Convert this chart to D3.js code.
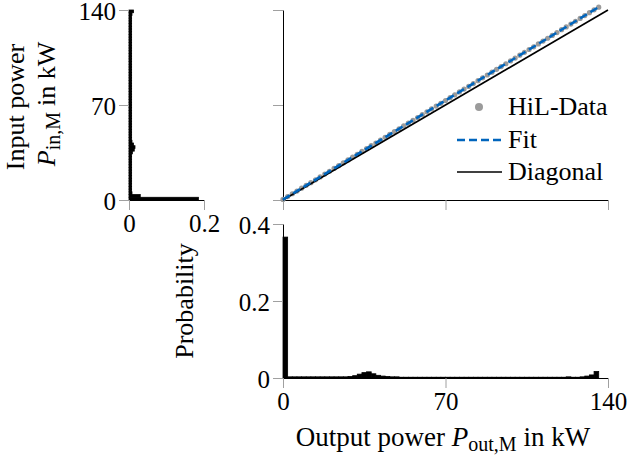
<!DOCTYPE html>
<html>
<head>
<meta charset="utf-8">
<script src="https://cdn.jsdelivr.net/npm/d3@7"></script>
<style>
  body { margin: 0; background: #fff; }
</style>
</head>
<body>
<svg id="chart" width="629" height="457"></svg>
<script>
// power bins (kW), 2 kW wide, lower edges
var binStart = [0, 2, 4, 6, 8, 10, 12, 14, 16, 18, 20, 22, 24, 26, 28, 30, 32, 34, 36, 38,
                40, 42, 44, 46, 48, 50, 52, 54, 56, 58, 60, 62, 64, 66, 68, 70, 72, 74, 76, 78,
                80, 82, 84, 86, 88, 90, 92, 94, 96, 98, 100, 102, 104, 106, 108, 110, 112, 114, 116, 118,
                120, 122, 124, 126, 128, 130, 132, 134, 136, 138];
var binWidth = 2;

// probability of output power per bin
var outProb = [0.366, 0.003, 0.003, 0.003, 0.003, 0.003, 0.003, 0.003, 0.003, 0.003,
               0.003, 0.003, 0.003, 0.003, 0.004, 0.006, 0.010, 0.014, 0.016, 0.011,
               0.007, 0.005, 0.004, 0.003, 0.003, 0.002, 0.002, 0.002, 0.002, 0.002,
               0.002, 0.002, 0.002, 0.002, 0.002, 0.002, 0.002, 0.002, 0.002, 0.002,
               0.002, 0.002, 0.002, 0.002, 0.002, 0.002, 0.002, 0.002, 0.002, 0.002,
               0.002, 0.002, 0.002, 0.002, 0.002, 0.002, 0.002, 0.002, 0.002, 0.002,
               0.002, 0.003, 0.002, 0.002, 0.003, 0.005, 0.008, 0.017, 0, 0];

// probability of input power per bin
var inProb = [0.185, 0.030, 0.008, 0.007, 0.007, 0.007, 0.007, 0.007, 0.007, 0.007,
              0.007, 0.007, 0.007, 0.007, 0.007, 0.007, 0.007, 0.009, 0.014, 0.016,
              0.012, 0.008, 0.007, 0.007, 0.007, 0.007, 0.007, 0.007, 0.007, 0.007,
              0.007, 0.007, 0.007, 0.007, 0.007, 0.007, 0.007, 0.007, 0.007, 0.007,
              0.007, 0.007, 0.007, 0.007, 0.007, 0.007, 0.007, 0.007, 0.007, 0.007,
              0.007, 0.007, 0.007, 0.007, 0.007, 0.007, 0.007, 0.007, 0.007, 0.007,
              0.007, 0.007, 0.007, 0.007, 0.007, 0.007, 0.007, 0.007, 0.008, 0.012];

// HiL measurements: output power vs input power (kW)
var hilOut = [0, 2, 4, 6, 8, 10, 12, 14, 16, 18, 20, 22, 24, 26, 28, 30, 32, 34, 36, 38,
              40, 42, 44, 46, 48, 50, 52, 54, 56, 58, 60, 62, 64, 66, 68, 70, 72, 74, 76, 78,
              80, 82, 84, 86, 88, 90, 92, 94, 96, 98, 100, 102, 104, 106, 108, 110, 112, 114, 116, 118,
              120, 122, 124, 126, 128, 130, 132, 134, 136];
var hilIn = [0.4, 2.5, 4.6, 6.6, 8.7, 10.8, 12.8, 14.9, 17.0, 19.1, 21.2, 23.3, 25.3, 27.4, 29.5, 31.6, 33.7, 35.8, 37.9, 40.0,
             42.0, 44.1, 46.2, 48.3, 50.4, 52.5, 54.6, 56.6, 58.7, 60.8, 62.9, 65.0, 67.1, 69.2, 71.2, 73.3, 75.4, 77.5, 79.6, 81.7,
             83.7, 85.8, 87.9, 90.0, 92.1, 94.2, 96.3, 98.3, 100.4, 102.5, 104.6, 106.7, 108.8, 110.9, 112.9, 115.0, 117.1, 119.2, 121.3, 123.4,
             125.5, 127.5, 129.6, 131.7, 133.8, 135.9, 138.0, 140.1, 142.1];

// linear fit of the HiL data
var fitSlope = 1.043, fitIntercept = 0.3;
var fitRange = [0, 136];
var diagRange = [0, 140];

var powTicks = [0, 70, 140];
var inProbTicks = [0, 0.2];
var outProbTicks = [0, 0.2, 0.4];
var legendNames = ["HiL-Data", "Fit", "Diagonal"];

var blue = "#0065bd", grey = "#9b9b9b", tickGrey = "#a0a0a0";
var serif = "'Liberation Serif', Tinos, 'Nimbus Roman', 'Times New Roman', Times, serif";
var fs = 26, tickFs = 25, subFs = 20;

var svg = d3.select("#chart");

// scales
var xIn = d3.scaleLinear().domain([0, 0.2]).range([129, 204]);
var yPow = d3.scaleLinear().domain([0, 140]).range([200, 10]);
var xOut = d3.scaleLinear().domain([0, 140]).range([283, 608]);
var yProb = d3.scaleLinear().domain([0, 0.4]).range([378, 224]);

function txt(sel, size) {
    return sel.style("font-family", serif).style("font-size", (size || fs) + "px").attr("fill", "#000");
}

function styleAxis(g, showLabels, vertical) {
    g.select(".domain").attr("stroke", "#000").attr("stroke-width", 1);
    g.selectAll(".tick line").attr("stroke", tickGrey).attr("stroke-width", 1);
    g.selectAll(".tick text").call(txt, tickFs);
    if (vertical) g.selectAll(".tick text").attr("dy", "0.38em");
    if (!showLabels) g.selectAll(".tick text").remove();
}

/*** top-left: input power histogram ***/
var tl = svg.append("g");
tl.selectAll("rect").data(binStart).enter().append("rect")
    .attr("x", xIn(0))
    .attr("y", function(d) { return yPow(d + binWidth); })
    .attr("width", function(d, i) { return xIn(inProb[i]) - xIn(0); })
    .attr("height", function(d) { return yPow(d) - yPow(d + binWidth); })
    .attr("fill", "#000").attr("stroke", "#000").attr("stroke-width", 0.8);

tl.append("g").attr("transform", "translate(" + xIn(0) + ",0)")
    .call(d3.axisLeft(yPow).tickValues(powTicks).tickSize(10).tickSizeOuter(0).tickPadding(3))
    .call(styleAxis, true, true);
tl.append("g").attr("transform", "translate(0," + yPow(0) + ")")
    .call(d3.axisBottom(xIn).tickValues(inProbTicks).tickSize(10).tickSizeOuter(0).tickPadding(4)
          .tickFormat(function(d) { return d === 0 ? "0" : d3.format(".1f")(d); }))
    .call(styleAxis, true, false);

tl.append("text").attr("transform", "translate(24,107) rotate(-90)")
    .attr("text-anchor", "middle").call(txt).text("Input power");
var t2 = tl.append("text").attr("transform", "translate(55,104) rotate(-90)")
    .attr("text-anchor", "middle").call(txt);
t2.append("tspan").style("font-style", "italic").text("P");
t2.append("tspan").attr("dy", 5).style("font-size", subFs + "px").text("in,M");
t2.append("tspan").attr("dy", -5).attr("dx", 6).text("in kW");

/*** top-right: scatter with fit ***/
var tr = svg.append("g");
tr.append("g").attr("transform", "translate(" + xOut(0) + ",0)")
    .call(d3.axisLeft(yPow).tickValues(powTicks).tickSize(10).tickSizeOuter(0))
    .call(styleAxis, false, true);
tr.append("g").attr("transform", "translate(0," + yPow(0) + ")")
    .call(d3.axisBottom(xOut).tickValues(powTicks).tickSize(10).tickSizeOuter(0))
    .call(styleAxis, false, false);

tr.selectAll("circle.hil").data(hilOut).enter().append("circle")
    .attr("class", "hil")
    .attr("cx", function(d) { return xOut(d); })
    .attr("cy", function(d, i) { return yPow(hilIn[i]); })
    .attr("r", 2.6).attr("fill", grey);

var line = d3.line().x(function(d) { return xOut(d[0]); }).y(function(d) { return yPow(d[1]); });
tr.append("path")
    .attr("d", line(diagRange.map(function(v) { return [v, v]; })))
    .attr("fill", "none").attr("stroke", "#000").attr("stroke-width", 1.6);
tr.append("path")
    .attr("d", line(fitRange.map(function(v) { return [v, fitSlope * v + fitIntercept]; })))
    .attr("fill", "none").attr("stroke", blue).attr("stroke-width", 2.6)
    .attr("stroke-dasharray", "8,4");

// legend
var lg = tr.append("g").attr("transform", "translate(457,0)");
var rowY = [107, 140, 172];
lg.append("circle").attr("cx", 22).attr("cy", rowY[0]).attr("r", 4).attr("fill", grey);
lg.append("line").attr("x1", 0).attr("x2", 45).attr("y1", rowY[1]).attr("y2", rowY[1])
    .attr("stroke", blue).attr("stroke-width", 2.6).attr("stroke-dasharray", "8,4");
lg.append("line").attr("x1", 0).attr("x2", 45).attr("y1", rowY[2]).attr("y2", rowY[2])
    .attr("stroke", "#000").attr("stroke-width", 1.6);
lg.selectAll("text").data(legendNames).enter().append("text")
    .attr("x", 51).attr("y", function(d, i) { return rowY[i] + 8; })
    .call(txt).text(function(d) { return d; });

/*** bottom: output power histogram ***/
var bt = svg.append("g");
bt.selectAll("rect").data(binStart).enter().append("rect")
    .attr("x", function(d) { return xOut(d); })
    .attr("y", function(d, i) { return yProb(outProb[i]); })
    .attr("width", function(d) { return xOut(d + binWidth) - xOut(d); })
    .attr("height", function(d, i) { return yProb(0) - yProb(outProb[i]); })
    .attr("fill", "#000").attr("stroke", "#000").attr("stroke-width", 0.8);

bt.append("g").attr("transform", "translate(" + xOut(0) + ",0)")
    .call(d3.axisLeft(yProb).tickValues(outProbTicks).tickSize(10).tickSizeOuter(0).tickPadding(3)
          .tickFormat(function(d) { return d === 0 ? "0" : d3.format(".1f")(d); }))
    .call(styleAxis, true, true);
bt.append("g").attr("transform", "translate(0," + yProb(0) + ")")
    .call(d3.axisBottom(xOut).tickValues(powTicks).tickSize(10).tickSizeOuter(0).tickPadding(4))
    .call(styleAxis, true, false);

bt.append("text").attr("transform", "translate(193,301) rotate(-90)")
    .attr("text-anchor", "middle").call(txt).text("Probability");
var t3 = bt.append("text").attr("x", 443).attr("y", 446)
    .attr("text-anchor", "middle").call(txt, 27);
t3.append("tspan").text("Output power ");
t3.append("tspan").style("font-style", "italic").text("P");
t3.append("tspan").attr("dy", 5).style("font-size", subFs + "px").text("out,M");
t3.append("tspan").attr("dy", -5).attr("dx", 7).text("in kW");
</script>
</body>
</html>
